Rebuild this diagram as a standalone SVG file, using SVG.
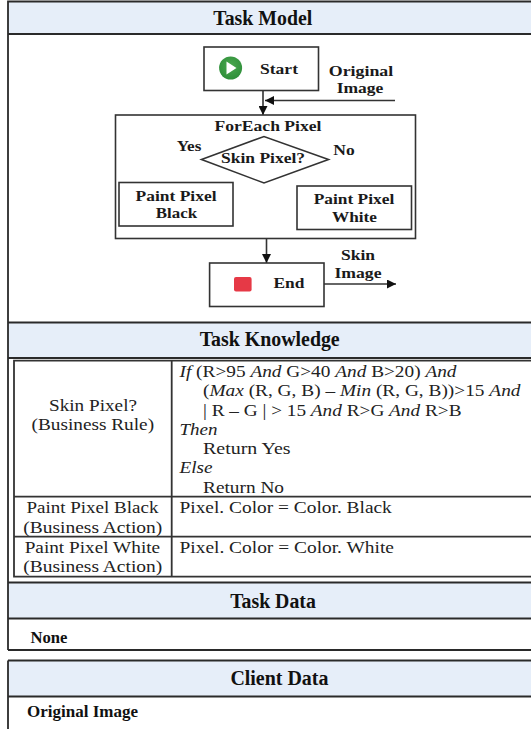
<svg xmlns="http://www.w3.org/2000/svg" width="531" height="729" viewBox="0 0 531 729">
<style>
text{font-family:"Liberation Serif","Times New Roman",serif;fill:#111}
.h{font-size:20px;font-weight:bold;text-anchor:middle}
.n{font-size:14.500px;font-weight:bold;text-anchor:middle;fill:#1a1a1a}
.b{fill:#fff;stroke:#333;stroke-width:1.6}
.band{fill:#e6eef9}
.l{fill:none;stroke:#333;stroke-width:1.6}
.lh{stroke:#2a2a2a;stroke-width:1.8;fill:none}
.t{font-size:16.500px;fill:#222}
.c{text-anchor:middle}
.i{font-style:italic}
.d{font-size:16.500px;font-weight:bold}
.w{stroke:#333;stroke-width:1.8;fill:none}
</style>
<defs>
<marker id="a" markerUnits="userSpaceOnUse" markerWidth="10" markerHeight="9" refX="9" refY="4.5" orient="auto"><path d="M0,0L9,4.5L0,9z" fill="#111"/></marker>
<radialGradient id="g" cx=".5" cy=".4" r=".6"><stop offset="0" stop-color="#4aa84e"/><stop offset="1" stop-color="#2f8f3a"/></radialGradient>
</defs>
<rect width="531" height="729" fill="#fff"/>
<g id="panels">
<rect class="band" x="8" y="2" width="523" height="32"/>
<rect class="band" x="8" y="323" width="523" height="35"/>
<rect class="band" x="8" y="583" width="523" height="35"/>
<rect class="band" x="8" y="661" width="523" height="35"/>
<path class="lh" d="M531,1.500H8V650M8,34H531M8,322.500H531M8,358H531M8,582.500H531M8,618.500H531M8,650H531M8,660.500H531M8,696.500H531M8,660.500V729"/>
<text class="h" x="262.800" y="25" textLength="99" lengthAdjust="spacingAndGlyphs">Task Model</text>
<text class="h" x="269.700" y="346" textLength="140" lengthAdjust="spacingAndGlyphs">Task Knowledge</text>
<text class="h" x="273" y="608" textLength="85.700" lengthAdjust="spacingAndGlyphs">Task Data</text>
<text class="h" x="279.400" y="685" textLength="98" lengthAdjust="spacingAndGlyphs">Client Data</text>
<text class="d" x="30.500" y="642.500" textLength="37" lengthAdjust="spacingAndGlyphs">None</text>
<text class="d" x="27" y="716.700" textLength="111" lengthAdjust="spacingAndGlyphs">Original Image</text>
</g>
<g id="connectors">
<path class="l" d="M263,90.500V115" marker-end="url(#a)"/>
<path class="l" d="M395,100.500H265" marker-end="url(#a)"/>
<path class="l" d="M201.500,159.500H176V182.500" marker-end="url(#a)"/>
<path class="l" d="M328.500,159.500H355V182.500" marker-end="url(#a)"/>
<path class="l" d="M266.500,239V263" marker-end="url(#a)"/>
<path class="l" d="M324,284H396" marker-end="url(#a)"/>
</g>
<g id="foreach"><rect class="b" x="115.500" y="115" width="300" height="123.500" fill="none"/><text class="n" x="268" y="130.700" textLength="107" lengthAdjust="spacingAndGlyphs">ForEach Pixel</text></g>
<g id="start"><rect class="b" x="204" y="47" width="114.500" height="43.500"/><circle cx="230.600" cy="68" r="11.500" fill="url(#g)"/><path d="M226.500,61.500L236.500,68L226.500,74.500z" fill="#fff"/><text class="n" x="279" y="74" textLength="38" lengthAdjust="spacingAndGlyphs">Start</text></g>
<g id="original-image-label"><text class="n" x="361" y="76" textLength="64.500" lengthAdjust="spacingAndGlyphs">Original</text><text class="n" x="360" y="93.300" textLength="46.700" lengthAdjust="spacingAndGlyphs">Image</text></g>
<g id="skin-decision"><path class="b" d="M201.500,159.500L264,136.500L328.500,159.500L264,183z"/><text class="n" x="263" y="163.300" textLength="84" lengthAdjust="spacingAndGlyphs">Skin Pixel?</text></g>
<g id="yes-label"><text class="n" x="189" y="151" textLength="24.700" lengthAdjust="spacingAndGlyphs">Yes</text></g>
<g id="no-label"><text class="n" x="344" y="155.300" textLength="21.400" lengthAdjust="spacingAndGlyphs">No</text></g>
<g id="paint-black"><rect class="b" x="119" y="182.500" width="114" height="43.500"/><text class="n" x="176" y="201.300" textLength="81" lengthAdjust="spacingAndGlyphs">Paint Pixel</text><text class="n" x="176.500" y="218.300" textLength="41.300" lengthAdjust="spacingAndGlyphs">Black</text></g>
<g id="paint-white"><rect class="b" x="297" y="186" width="114.500" height="43.500"/><text class="n" x="354" y="204" textLength="80.600" lengthAdjust="spacingAndGlyphs">Paint Pixel</text><text class="n" x="354.500" y="221.700" textLength="45" lengthAdjust="spacingAndGlyphs">White</text></g>
<g id="end"><rect class="b" x="209.600" y="263" width="114.400" height="43.500"/><rect x="234" y="277" width="17.600" height="14.500" rx="2" fill="#e63946"/><text class="n" x="289" y="288" textLength="31" lengthAdjust="spacingAndGlyphs">End</text></g>
<g id="skin-image-label"><text class="n" x="358" y="260" textLength="34" lengthAdjust="spacingAndGlyphs">Skin</text><text class="n" x="358" y="278" textLength="47" lengthAdjust="spacingAndGlyphs">Image</text></g>
<g id="knowledge-table">
<path class="w" d="M531,360.700H14V576.700H531M14,496.700H531M14,536.700H531M171.700,360.700V576.700"/>
<text class="t c" x="93" y="410.700" textLength="88" lengthAdjust="spacingAndGlyphs">Skin Pixel?</text>
<text class="t c" x="92.800" y="430" textLength="122.600" lengthAdjust="spacingAndGlyphs">(Business Rule)</text>
<text class="t c" x="92.400" y="513.300" textLength="132" lengthAdjust="spacingAndGlyphs">Paint Pixel Black</text>
<text class="t c" x="92.800" y="532.700" textLength="139" lengthAdjust="spacingAndGlyphs">(Business Action)</text>
<text class="t c" x="92.400" y="552.700" textLength="135.500" lengthAdjust="spacingAndGlyphs">Paint Pixel White</text>
<text class="t c" x="92.800" y="572.300" textLength="139" lengthAdjust="spacingAndGlyphs">(Business Action)</text>
<text class="t" x="179.500" y="376.700" textLength="277" lengthAdjust="spacingAndGlyphs"><tspan class="i">If</tspan> (R&gt;95 <tspan class="i">And</tspan> G&gt;40 <tspan class="i">And</tspan> B&gt;20) <tspan class="i">And</tspan></text>
<text class="t" x="203" y="396" textLength="317.500" lengthAdjust="spacingAndGlyphs">(<tspan class="i">Max</tspan> (R, G, B) – <tspan class="i">Min</tspan> (R, G, B))&gt;15 <tspan class="i">And</tspan></text>
<text class="t" x="203" y="415.700" textLength="258.500" lengthAdjust="spacingAndGlyphs">| R – G | &gt; 15 <tspan class="i">And</tspan> R&gt;G <tspan class="i">And</tspan> R&gt;B</text>
<text class="t i" x="179.500" y="435" textLength="38" lengthAdjust="spacingAndGlyphs">Then</text>
<text class="t" x="203" y="454" textLength="87.500" lengthAdjust="spacingAndGlyphs">Return Yes</text>
<text class="t i" x="179.500" y="473.300" textLength="33" lengthAdjust="spacingAndGlyphs">Else</text>
<text class="t" x="203" y="492.700" textLength="81" lengthAdjust="spacingAndGlyphs">Return No</text>
<text class="t" x="179.500" y="513.300" textLength="212.300" lengthAdjust="spacingAndGlyphs">Pixel. Color = Color. Black</text>
<text class="t" x="179.500" y="552.700" textLength="214.400" lengthAdjust="spacingAndGlyphs">Pixel. Color = Color. White</text>
</g>
</svg>
